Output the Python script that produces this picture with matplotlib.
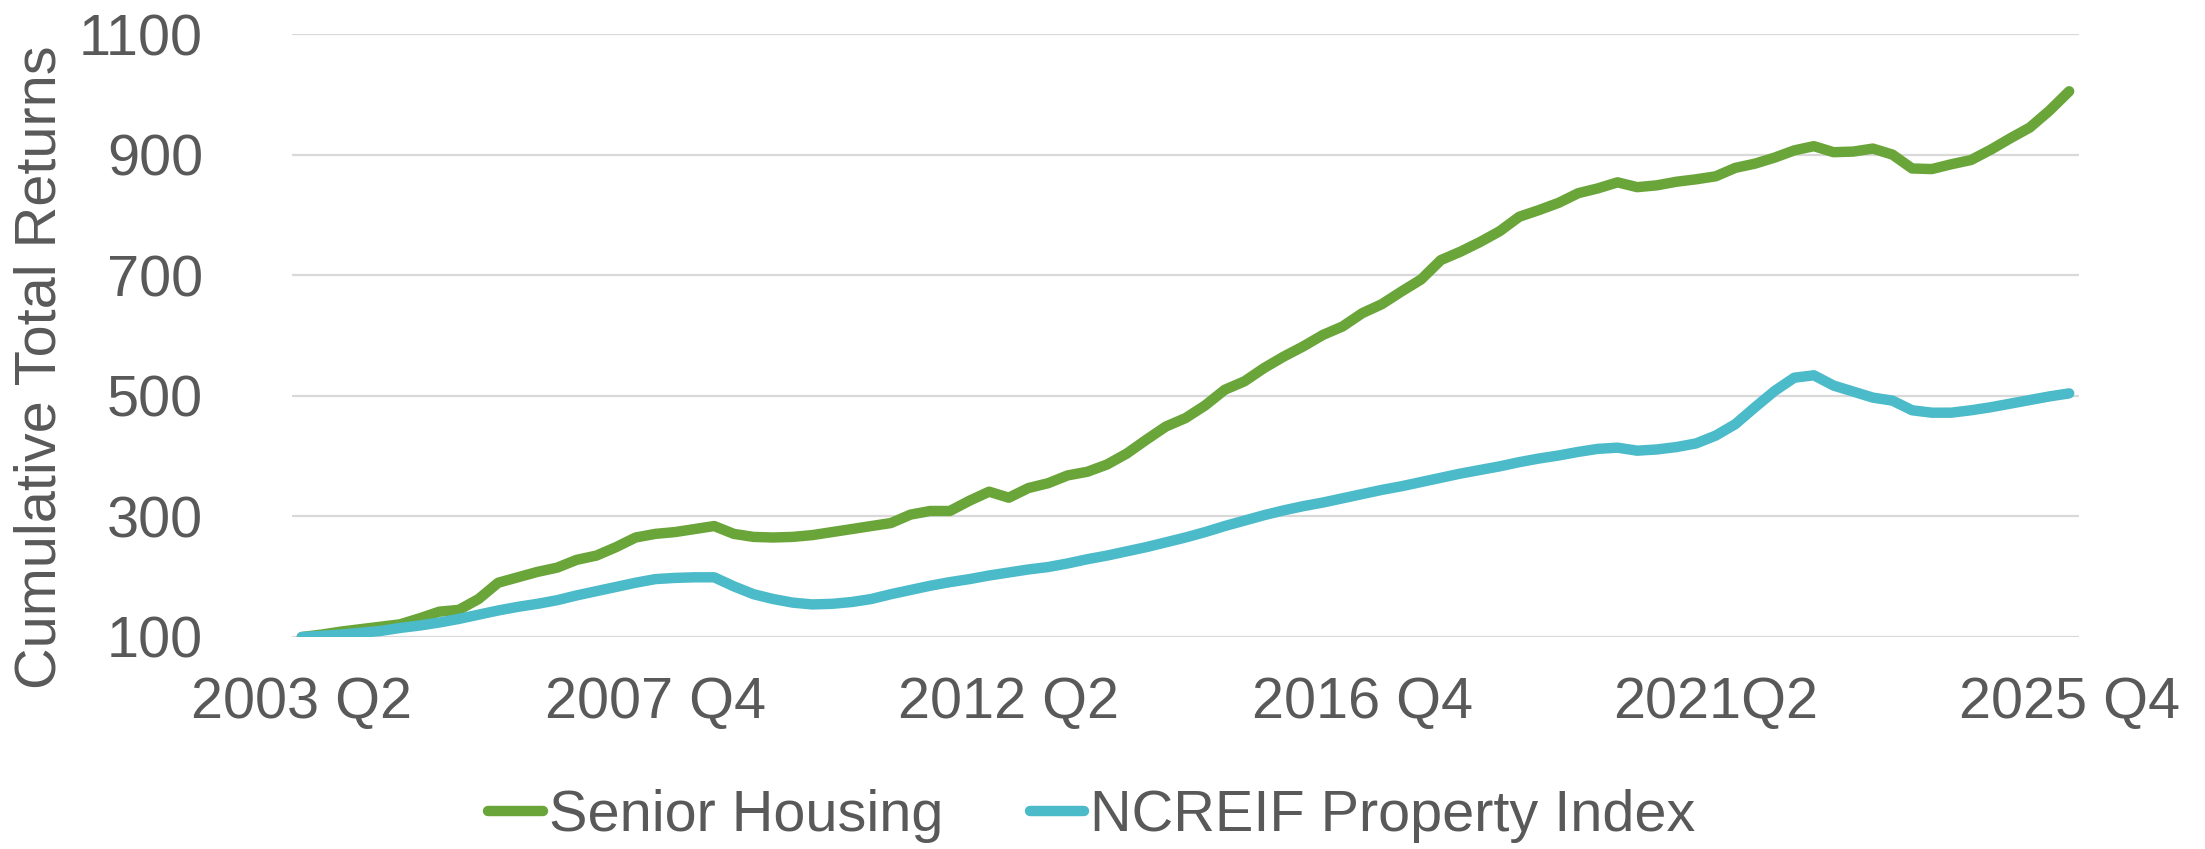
import matplotlib
matplotlib.use("Agg")
import matplotlib.pyplot as plt
import numpy as np

# quarterly cumulative total return index, 2003 Q2 = 100
quarters = [f"{y} Q{q}" for y in range(2003, 2026) for q in range(1, 5)][1:]
senior_housing = [
    100, 104, 109, 113, 117, 121, 131, 142, 145, 163,
    190, 199, 208, 215, 228, 235, 249, 265, 271, 274,
    279, 284, 271, 266, 265, 266, 269, 274, 279, 284,
    289, 303, 309, 309, 326, 341, 331, 347, 355, 368,
    374, 386, 404, 427, 449, 463, 484, 510, 524, 546,
    565, 582, 601, 615, 637, 652, 673, 693, 725, 739,
    755, 773, 797, 808, 820, 836, 844, 854, 846, 849,
    855, 859, 864, 878, 885, 895, 907, 914, 904, 905,
    910, 900, 877, 876, 884, 891, 908, 927, 945, 973,
    1005,
]
ncreif = [
    100, 102, 104, 107, 110, 115, 119, 124, 130, 137,
    144, 150, 155, 161, 169, 176, 183, 190, 196, 198,
    199, 199, 184, 171, 163, 157, 154, 155, 158, 163,
    171, 178, 185, 191, 196, 202, 207, 212, 216, 222,
    229, 235, 242, 249, 257, 265, 274, 284, 293, 302,
    310, 317, 323, 330, 337, 344, 350, 357, 364, 371,
    377, 383, 390, 396, 401, 407, 412, 414, 409, 411,
    415, 421, 434, 453, 481, 508, 530, 534, 517, 507,
    497, 492, 476, 472, 472, 476, 481, 487, 493, 499,
    504,
]
tick_labels = ["2003 Q2", "2007 Q4", "2012 Q2", "2016 Q4", "2021Q2", "2025 Q4"]
y_ticks = [100, 300, 500, 700, 900, 1100]

GREEN = "#6AA53A"
CYAN = "#4BBAC9"
TEXT = "#595959"
FS = 41.5
LW = 7.5

plt.rcParams["font.family"] = ["Liberation Sans", "DejaVu Sans"]

fig = plt.figure(figsize=(22.05, 8.49), dpi=100)
ax = fig.add_axes([292 / 2205, 1 - 637 / 849, (2079 - 292) / 2205, (637 - 34) / 849])

x = np.arange(len(quarters))
ax.plot(x, senior_housing, color=GREEN, lw=LW, solid_capstyle="round",
        solid_joinstyle="round", label="Senior Housing", zorder=3)
ax.plot(x, ncreif, color=CYAN, lw=LW, solid_capstyle="round",
        solid_joinstyle="round", label="NCREIF Property Index", zorder=3)

ax.set_xlim(-0.5, len(quarters) - 0.5)
ax.set_ylim(100, 1100)
ax.set_yticks(y_ticks)
ax.set_yticklabels([str(v) for v in y_ticks], fontsize=FS, color=TEXT)
tick_pos = [quarters.index(t.replace("Q", " Q").replace("  ", " ")) for t in tick_labels]
ax.set_xticks(tick_pos)
ax.set_xticklabels(tick_labels, fontsize=FS, color=TEXT)
ax.tick_params(axis="y", length=0, pad=64)
ax.tick_params(axis="x", length=0, pad=28)
ax.grid(axis="y", color="#D9D9D9", lw=1.6, zorder=0)
ax.set_axisbelow(True)
for s in ax.spines.values():
    s.set_visible(False)

fig.text(41 / 2205, 1 - 367 / 849, "Cumulative Total Returns", rotation=90,
         ha="center", va="center", fontsize=FS, color=TEXT)

leg = fig.legend(loc="center", bbox_to_anchor=(1092 / 2205, 1 - 816 / 849),
                 ncol=2, frameon=False, fontsize=FS, handlelength=0.95,
                 handletextpad=0.1, columnspacing=1.5, borderpad=0)
for t in leg.get_texts():
    t.set_color(TEXT)

fig.savefig("out.png", dpi=100)
